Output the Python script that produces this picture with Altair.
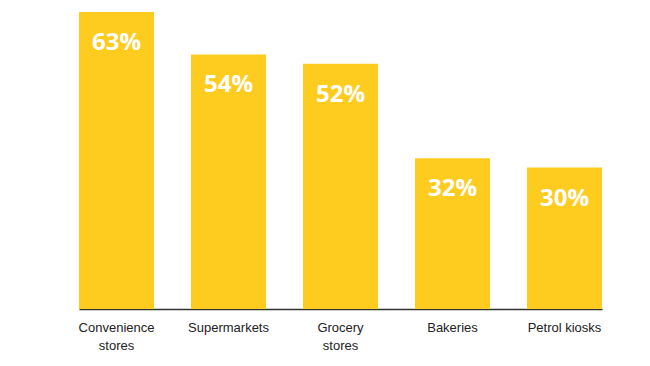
import altair as alt
import pandas as pd

categories = ["Convenience\nstores", "Supermarkets", "Grocery\nstores", "Bakeries", "Petrol kiosks"]
values = [63, 54, 52, 32, 30]
labels = ["63%", "54%", "52%", "32%", "30%"]

df = pd.DataFrame({"category": categories, "value": values, "label": labels})

x = alt.X("category:N", sort=categories, title=None,
          scale=alt.Scale(paddingInner=0.33, paddingOuter=0),
          axis=alt.Axis(labelAngle=0, ticks=False, domainColor="#333333", domainWidth=1.5,
                        labelColor="#222222", labelFont="Liberation Sans", labelFontSize=13,
                        labelPadding=12, labelLineHeight=18,
                        labelExpr="split(datum.label, '\\n')"))
y = alt.Y("value:Q", title=None, scale=alt.Scale(domain=[0, 63], nice=False), axis=None)

bars = alt.Chart(df).mark_bar(color="#FDCC1F").encode(x=x, y=y)
text = alt.Chart(df).mark_text(color="white", font="Open Sans", fontWeight="bold", fontSize=24,
                               baseline="alphabetic", dy=38).encode(x=x, y=y, text="label:N")

chart = (bars + text).properties(
    width=523, height=297,
    background="white",
    autosize=alt.AutoSizeParams(type="none"),
    padding={"left": 71, "top": 4, "right": 40, "bottom": 50},
).configure_view(stroke=None, strokeWidth=0)

chart.save("out.html", embed_options={"renderer": "svg", "actions": False})
